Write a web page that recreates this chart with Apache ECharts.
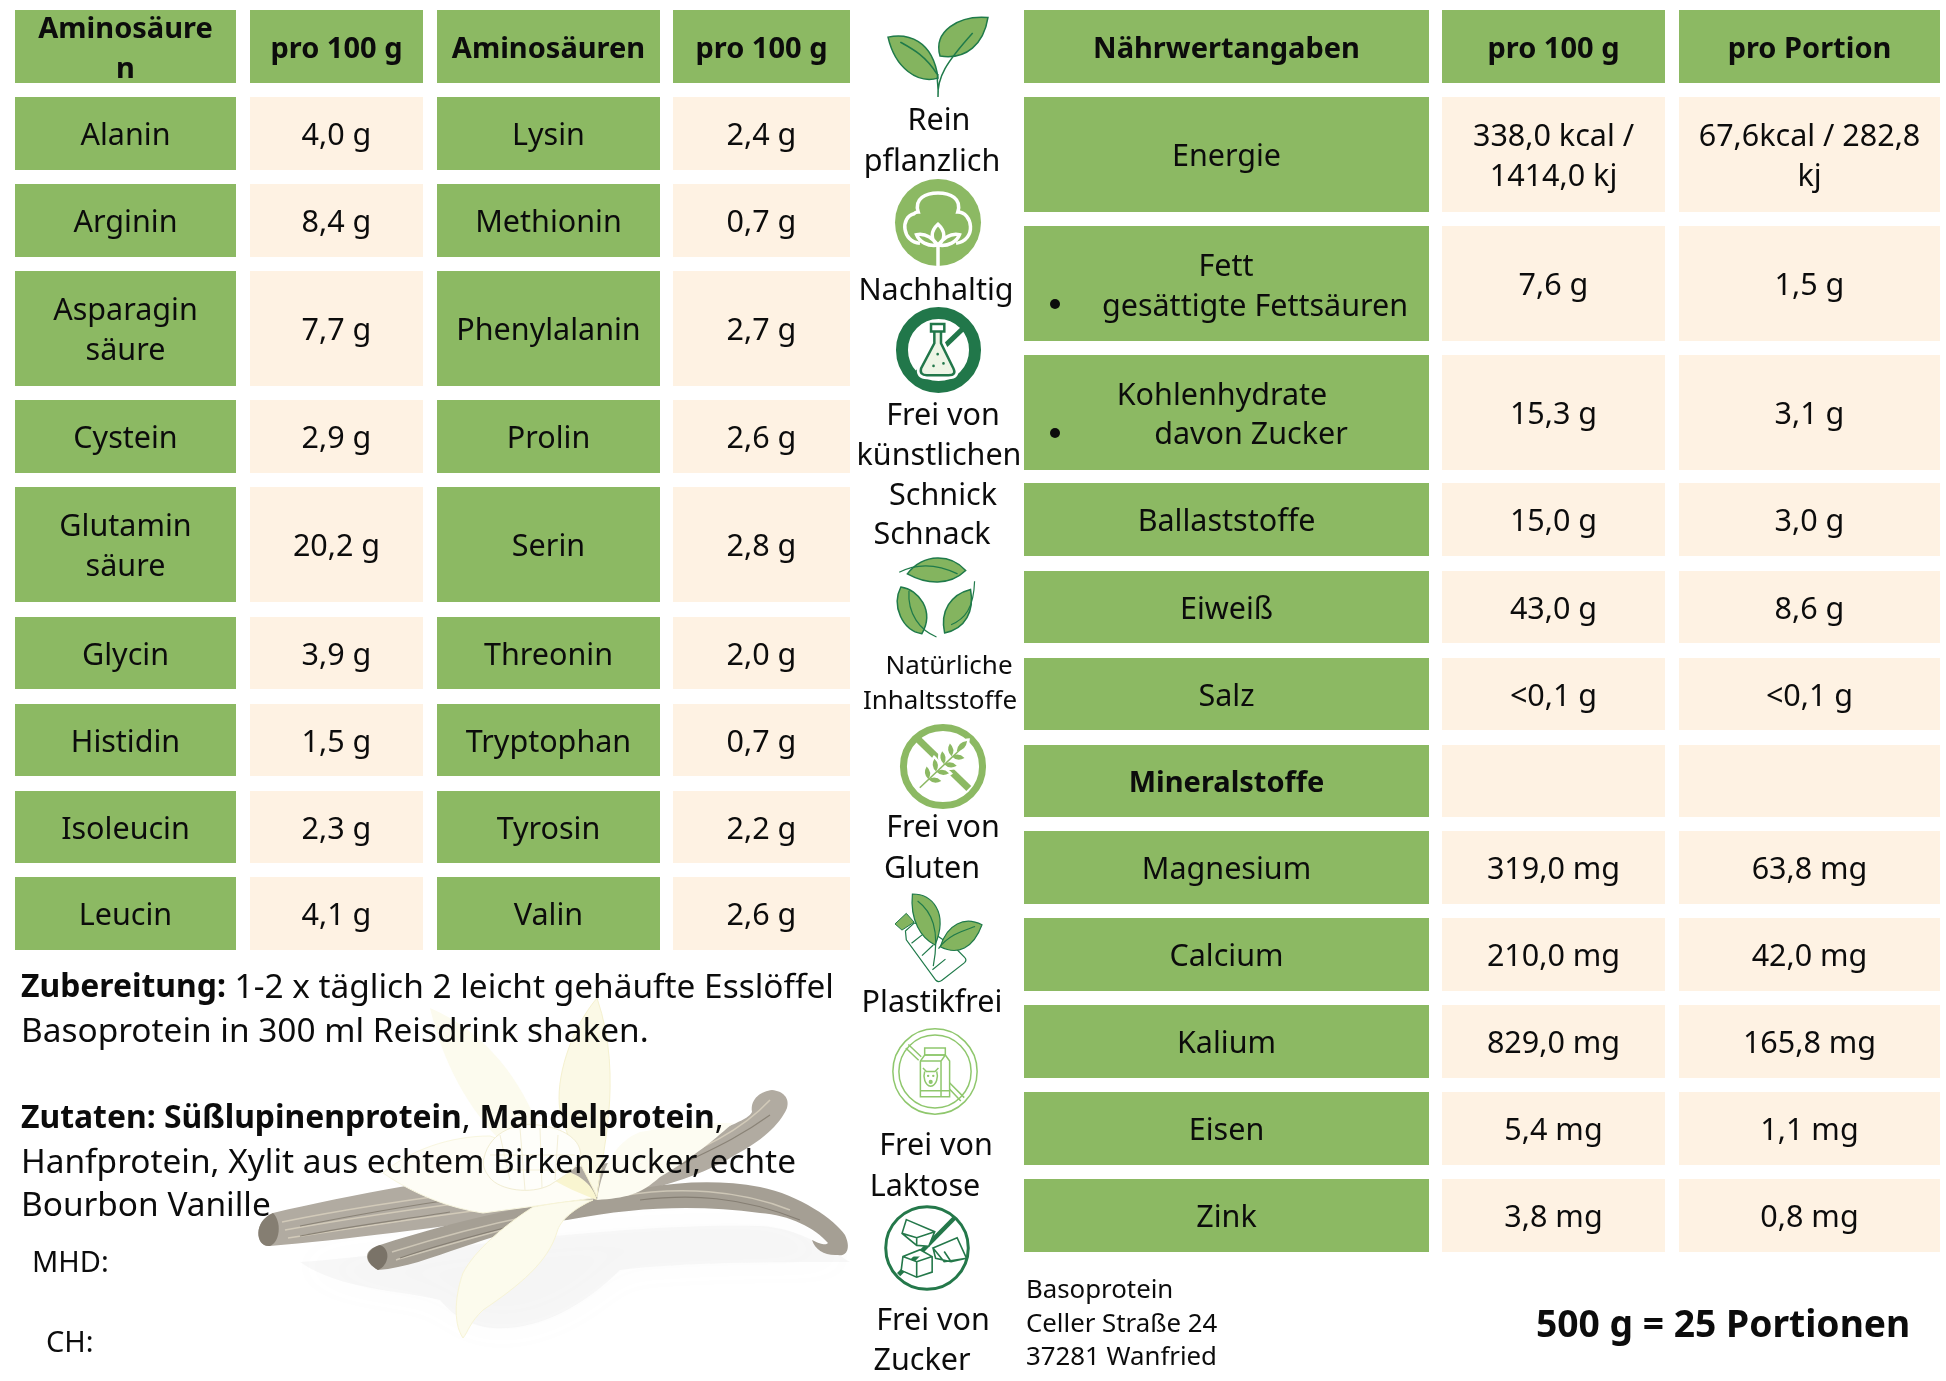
<!DOCTYPE html>
<html>
<head>
<meta charset="utf-8">
<style>html,body{margin:0;padding:0;background:#fff}#chart{width:1946px;height:1381px}</style>
<script src="https://cdn.jsdelivr.net/npm/echarts@6/dist/echarts.min.js"></script>
</head>
<body>
<div id="chart"></div>
<script>
// table contents
const aminoHeaders = ['Aminosäure\nn', 'pro 100 g', 'Aminosäuren', 'pro 100 g'];
const aminoNamesLeft = ['Alanin', 'Arginin', 'Asparagin\nsäure', 'Cystein', 'Glutamin\nsäure', 'Glycin', 'Histidin', 'Isoleucin', 'Leucin'];
const aminoValuesLeft = ['4,0 g', '8,4 g', '7,7 g', '2,9 g', '20,2 g', '3,9 g', '1,5 g', '2,3 g', '4,1 g'];
const aminoNamesRight = ['Lysin', 'Methionin', 'Phenylalanin', 'Prolin', 'Serin', 'Threonin', 'Tryptophan', 'Tyrosin', 'Valin'];
const aminoValuesRight = ['2,4 g', '0,7 g', '2,7 g', '2,6 g', '2,8 g', '2,0 g', '0,7 g', '2,2 g', '2,6 g'];

const nutrientHeaders = ['Nährwertangaben', 'pro 100 g', 'pro Portion'];
const nutrientNames = ['Energie', '', '', 'Ballaststoffe', 'Eiweiß', 'Salz', 'Mineralstoffe', 'Magnesium', 'Calcium', 'Kalium', 'Eisen', 'Zink'];
const nutrientPer100 = ['338,0 kcal /\n1414,0 kj', '7,6 g', '15,3 g', '15,0 g', '43,0 g', '<0,1 g', '', '319,0 mg', '210,0 mg', '829,0 mg', '5,4 mg', '3,8 mg'];
const nutrientPerPortion = ['67,6kcal / 282,8\nkj', '1,5 g', '3,1 g', '3,0 g', '8,6 g', '<0,1 g', '', '63,8 mg', '42,0 mg', '165,8 mg', '1,1 mg', '0,8 mg'];

// layout of the tables, in picture pixels
const aminoCols = [[15, 236], [250, 423], [437, 660], [673, 850]];
const aminoRows = [[97, 170], [184, 257], [271, 386], [400, 473], [487, 602], [617, 689], [704, 776], [791, 863], [877, 950]];
const nutrientCols = [[1024, 1429], [1442, 1665], [1679, 1940]];
const nutrientRows = [[97, 212], [226, 341], [355, 470], [483, 556], [571, 643], [658, 730], [745, 817], [831, 904], [918, 991], [1005, 1078], [1092, 1165], [1179, 1252]];
const headerRow = [10, 83];

const GREEN = '#8cb963';
const CREAM = '#fef2e3';
const INK = '#0c0c0c';
const FONT = '"Noto Sans", sans-serif';
const DARK = '#1f7a4a';
const TEXT_DROP = 3; // text sits a little below the middle of its cell

const cells = [];
function addCell(col, row, fill, text, bold) {
  cells.push({ x0: col[0], x1: col[1], y0: row[0], y1: row[1], fill, text, bold });
}
aminoHeaders.forEach((t, i) => addCell(aminoCols[i], headerRow, GREEN, t, true));
aminoRows.forEach((r, i) => {
  addCell(aminoCols[0], r, GREEN, aminoNamesLeft[i]);
  addCell(aminoCols[1], r, CREAM, aminoValuesLeft[i]);
  addCell(aminoCols[2], r, GREEN, aminoNamesRight[i]);
  addCell(aminoCols[3], r, CREAM, aminoValuesRight[i]);
});
nutrientHeaders.forEach((t, i) => addCell(nutrientCols[i], headerRow, GREEN, t, true));
nutrientRows.forEach((r, i) => {
  addCell(nutrientCols[0], r, GREEN, nutrientNames[i], nutrientNames[i] === 'Mineralstoffe');
  addCell(nutrientCols[1], r, CREAM, nutrientPer100[i]);
  addCell(nutrientCols[2], r, CREAM, nutrientPerPortion[i]);
});

// free text: [x, y, text, size, align]
const labels = [
  [1226, 264, 'Fett', 30.5], [1255, 304, 'gesättigte Fettsäuren', 30.5],
  [1222, 393, 'Kohlenhydrate', 30.5], [1251, 432, 'davon Zucker', 30.5],
  [939, 118, 'Rein', 30.5], [932, 159, 'pflanzlich', 30.5], [936, 288, 'Nachhaltig', 30.5],
  [943, 413, 'Frei von', 30.5], [939, 453, 'künstlichen', 30.5], [943, 493, 'Schnick', 30.5], [932, 532, 'Schnack', 30.5],
  [949, 664, 'Natürliche', 26], [940, 699, 'Inhaltsstoffe', 26],
  [943, 825, 'Frei von', 30.5], [932, 866, 'Gluten', 30.5], [932, 1000, 'Plastikfrei', 30.5],
  [936, 1143, 'Frei von', 30.5], [925, 1184, 'Laktose', 30.5], [933, 1318, 'Frei von', 30.5], [922, 1358, 'Zucker', 30.5],
  [21, 985, '{b|Zubereitung:} 1-2 x täglich 2 leicht gehäufte Esslöffel', 33.4, 'left'],
  [21, 1029, 'Basoprotein in 300 ml Reisdrink shaken.', 33.4, 'left'],
  [21, 1116, '{b|Zutaten: Süßlupinenprotein}, {b|Mandelprotein},', 33.4, 'left'],
  [21, 1160, 'Hanfprotein, Xylit aus echtem Birkenzucker, echte', 33.4, 'left'],
  [21, 1203, 'Bourbon Vanille', 33.4, 'left'],
  [32, 1261, 'MHD:', 29, 'left'], [46, 1341, 'CH:', 29, 'left'],
  [1026, 1288, 'Basoprotein', 25.8, 'left'], [1026, 1322, 'Celler Straße 24', 25.8, 'left'], [1026, 1355, '37281 Wanfried', 25.8, 'left'],
  [1536, 1323, '{b|500 g = 25 Portionen}', 39, 'left']
];
const bullets = [[1055, 304], [1055, 433]];

function circleD(cx, cy, r) {
  return `M${cx - r} ${cy}a${r} ${r} 0 1 0 ${2 * r} 0a${r} ${r} 0 1 0 ${-2 * r} 0Z`;
}
// one wheat grain, pointing from (x,y) along (dx,dy)
function grainD(x, y, dx, dy) {
  const nx = -dy * 0.4, ny = dx * 0.4;
  return `M${x} ${y}Q${x + dx / 2 + nx} ${y + dy / 2 + ny} ${x + dx} ${y + dy}Q${x + dx / 2 - nx} ${y + dy / 2 - ny} ${x} ${y}Z`;
}
const wheatGrains = [[33, 65], [42, 56], [51, 47], [60, 38]]
  .map(p => grainD(p[0], p[1], -2, -15) + grainD(p[0], p[1], 15, 2)).join('') + grainD(66, 32, 12, -12);

// icons are drawn in a 0..100 box
const LIGHT = '#84b45f';
const icons = [
  { box: [887, 15, 989, 97], parts: [
    { d: 'M1 27C20 22 45 30 50 77C30 84 8 65 1 27Z', fill: LIGHT, stroke: DARK, lw: 1.5 },
    { d: 'M99 3C70 0 45 20 52 50C78 55 95 35 99 3Z', fill: LIGHT, stroke: DARK, lw: 1.5 },
    { d: 'M50 100C51 85 48 80 50 72M50 100C49 76 58 58 84 22M13 33C26 42 38 50 49 72', stroke: DARK, lw: 1.5 }
  ] },
  { box: [895, 179, 981, 266], parts: [
    { d: circleD(50, 50, 50), fill: GREEN },
    { d: 'M29 74C8 72 6 44 22 40C24 38 26 38 27 38C22 22 36 16 50 16C64 16 78 22 73 38C90 38 96 70 71 74', stroke: '#fff', lw: 3.5 },
    { d: 'M50 100V76M50 52C41 60 41 70 50 76C59 70 59 60 50 52ZM50 76C42 66 34 62 25 64C28 72 38 78 50 76ZM50 76C58 66 66 62 75 64C72 72 62 78 50 76Z', stroke: '#fff', lw: 3.5 }
  ] },
  { box: [897, 308, 980, 392], parts: [
    { d: circleD(50, 50, 44), fill: '#fff', stroke: '#21774a', lw: 12 },
    { d: 'M20 81L80 24', stroke: '#21774a', lw: 5 },
    { d: 'M45 26V42L29 72Q27 80 36 80H62Q72 80 68 72L53 42V26Z', fill: '#fff', stroke: '#fff', lw: 8 },
    { d: 'M45 28V42L29 72Q27 80 36 80H62Q72 80 68 72L53 42V28', fill: '#eef5e6', stroke: '#21774a', lw: 2.5 },
    { d: 'M41 19H57V28H41Z', fill: '#fff', stroke: '#21774a', lw: 2.5 },
    { d: circleD(49, 55, 1.6) + circleD(56, 66, 1.6) + circleD(44, 69, 1.6), fill: '#21774a' }
  ] },
  { box: [896, 555, 977, 637], parts: [
    { d: 'M14 23C35 -3 68 -1 86 19C66 38 38 36 14 23Z', fill: LIGHT, stroke: DARK, lw: 1.5 },
    { d: 'M4 21C30 8 55 13 76 23', stroke: DARK, lw: 1.2 },
    { d: 'M6 39C28 42 48 68 32 96C8 92 -6 62 6 39Z', fill: LIGHT, stroke: DARK, lw: 1.5 },
    { d: 'M16 44C14 72 30 92 50 100', stroke: DARK, lw: 1.2 },
    { d: 'M60 95C54 68 68 48 92 42C97 68 86 90 60 95Z', fill: LIGHT, stroke: DARK, lw: 1.5 },
    { d: 'M68 85C85 78 96 65 97 32', stroke: DARK, lw: 1.2 }
  ] },
  { box: [900, 724, 986, 809], parts: [
    { d: circleD(50, 50, 46), fill: '#fff', stroke: GREEN, lw: 7 },
    { d: 'M21 18L80 76', stroke: GREEN, lw: 7 },
    { d: 'M20 76L76 24', stroke: '#fff', lw: 10 },
    { d: wheatGrains, fill: '#fff', stroke: '#fff', lw: 5 },
    { d: 'M23 75L70 30', stroke: GREEN, lw: 1.6 },
    { d: wheatGrains, fill: GREEN }
  ] },
  { box: [895, 894, 982, 982], parts: [
    { d: 'M0 34L13 22L22 32L8 41Z', fill: LIGHT, stroke: DARK, lw: 1 },
    { d: 'M12 42L13 52L47 98Q50 101 54 98L80 78Q83 75 80 72L70 62L30 35L22 33Z', fill: '#fff', stroke: DARK, lw: 1.2 },
    { d: 'M19 56L33 45M31 70L44 58M43 86L58 74', stroke: DARK, lw: 1.2 },
    { d: 'M20 0C42 0 62 20 46 58C30 50 17 30 20 0Z', fill: LIGHT, stroke: DARK, lw: 1.2 },
    { d: 'M100 35C80 25 60 34 52 60C72 70 90 62 100 35Z', fill: LIGHT, stroke: DARK, lw: 1.2 },
    { d: 'M26 8C42 20 52 40 44 82M50 62C62 46 78 42 92 37', stroke: DARK, lw: 1.2 }
  ] },
  { box: [892, 1028, 978, 1115], parts: [
    { d: circleD(50, 50, 49), fill: '#fff', stroke: '#8fc76d', lw: 1.5 },
    { d: circleD(50, 50, 42), stroke: '#8fc76d', lw: 1.5 },
    { d: 'M19 19L34 33M16 23L31 37M66 62L84 80M63 66L80 84', stroke: '#8fc76d', lw: 1.5 },
    { d: 'M33 38L38 31H62L67 38V79H33Z', fill: '#fff', stroke: '#8fc76d', lw: 1.5 },
    { d: 'M38 23H62V31H38ZM33 38H57V79M57 38L62 31M33 72H67', stroke: '#8fc76d', lw: 1.5 },
    { d: 'M36 46L40 50H50L54 46M38 50C36 56 38 66 45 67C52 66 54 56 52 50', stroke: '#8fc76d', lw: 1.5 },
    { d: circleD(42, 55, 1.4) + circleD(48, 55, 1.4) + circleD(45, 62, 2.4), fill: '#8fc76d' }
  ] },
  { box: [884, 1205, 970, 1291], parts: [
    { d: circleD(50, 50, 48), fill: '#fff', stroke: '#24784a', lw: 3 },
    { d: 'M17 81L83 14', stroke: '#24784a', lw: 4.5 },
    { d: 'M26 17L59 31L52 48L38 47L21 33ZM21 33L38 38L59 31M38 38V47', fill: '#fff', stroke: '#24784a', lw: 1.6 },
    { d: 'M57 50L85 38L96 62L70 66ZM57 50L60 62L78 66L96 62M70 54L78 66', fill: '#fff', stroke: '#24784a', lw: 1.6 },
    { d: 'M22 60L42 52L56 60V78L38 84L20 76ZM22 60L38 66L56 60M38 66V84', fill: '#fff', stroke: '#24784a', lw: 1.6 }
  ] }
];

// faded vanilla picture behind the text, in picture pixels
const vanilla = [
  { d: 'M300 1262C430 1252 620 1222 760 1226C800 1228 830 1250 850 1262C760 1262 690 1262 620 1270C560 1330 480 1350 440 1300C400 1290 340 1290 300 1262Z', fill: 'rgba(190,190,190,0.10)', blur: 35 },
  { d: 'M273 1213C310 1204 360 1194 400 1187C500 1170 640 1170 697 1140C730 1125 748 1120 752 1112C750 1098 762 1091 772 1090C783 1091 790 1098 787 1108C780 1125 760 1142 735 1155C700 1178 640 1195 540 1212C440 1228 340 1240 270 1246C256 1248 252 1222 273 1213Z', fill: '#b1aba1' },
  { d: 'M282 1222C340 1210 420 1198 500 1188M285 1230C340 1220 420 1208 500 1198M288 1238C340 1230 420 1218 480 1210M660 1165C700 1150 740 1132 770 1100', stroke: '#d2cab9', lw: 1.6 },
  { d: 'M300 1226C350 1216 420 1204 470 1197M300 1236C350 1226 400 1220 450 1212M680 1165C710 1150 735 1140 770 1115', stroke: '#8a8377', lw: 1.2 },
  { d: 'M273 1213C252 1222 256 1248 270 1246C280 1242 282 1222 273 1213Z', fill: '#857e72' },
  { d: 'M380 1245C420 1232 470 1218 527 1207L593 1200C640 1186 700 1176 760 1187C800 1195 835 1220 845 1235C852 1250 845 1257 838 1255C825 1256 815 1250 812 1240C822 1245 826 1245 828 1243C815 1228 790 1215 760 1213C700 1205 640 1206 567 1220C530 1224 490 1238 463 1247C430 1258 405 1268 378 1270C364 1262 362 1250 380 1245Z', fill: '#a59f94' },
  { d: 'M392 1252C430 1240 480 1226 530 1216M396 1260C430 1250 470 1238 510 1228M620 1196C680 1186 740 1190 790 1210', stroke: '#cdc6b6', lw: 1.5 },
  { d: 'M400 1258C440 1244 480 1234 520 1224M640 1200C690 1194 740 1196 800 1220', stroke: '#857e73', lw: 1.2 },
  { d: 'M380 1245C364 1250 364 1262 378 1270C388 1266 392 1250 380 1245Z', fill: '#7a7368' },
  { d: 'M537 1123C515 1070 480 1030 430 1008C440 1050 460 1100 500 1140Z', fill: '#fcfbee' },
  { d: 'M597 1197C600 1160 625 1080 597 998C570 1030 555 1080 560 1110C570 1150 590 1180 597 1197Z', fill: '#fbf9e6', stroke: '#f5f1cf', lw: 1 },
  { d: 'M597 1200C625 1198 640 1195 660 1177C690 1160 720 1135 733 1123C700 1122 660 1128 640 1132C620 1140 603 1160 597 1200Z', fill: '#fdfcf2' },
  { d: 'M593 1198C560 1203 527 1207 483 1213C450 1208 415 1195 383 1173C410 1150 450 1136 490 1136C530 1150 575 1180 593 1198Z', fill: '#fefdf6', stroke: '#f8f6df', lw: 1 },
  { d: 'M593 1200C575 1208 560 1220 557 1232C548 1262 520 1285 483 1310C470 1322 468 1332 463 1338C452 1322 456 1292 463 1273C475 1250 505 1225 533 1207C555 1203 575 1200 593 1200Z', fill: '#fcfbed', stroke: '#f7f4d6', lw: 1 },
  { d: 'M597 1200C575 1192 550 1180 540 1170C560 1165 590 1175 597 1200Z', fill: '#f9f5d0' },
  { d: 'M484 1158C490 1130 520 1122 538 1125C565 1128 578 1140 580 1150C585 1165 565 1175 550 1185C530 1195 500 1190 490 1178C484 1170 482 1165 484 1158Z', fill: '#fefefa', stroke: '#f1edd2', lw: 1 },
  { d: 'M500 1135L510 1180M520 1128L525 1190M540 1128L542 1188M558 1135L555 1180M490 1155H575M495 1170H570', stroke: '#f3efd8', lw: 1 }
];

const MARK100 = 'M0 0L0 0M100 100L100 100';
const MARKPIC = 'M0 0L0 0M1946 1381L1946 1381';

function pathPart(part, marker, rect) {
  return {
    type: 'path',
    shape: { pathData: part.d + marker, layout: 'cover', x: rect[0], y: rect[1], width: rect[2], height: rect[3] },
    style: {
      fill: part.fill || 'none',
      stroke: part.stroke || 'none',
      lineWidth: part.lw || 0,
      shadowBlur: part.blur || 0,
      shadowColor: part.blur ? 'rgba(170,170,170,0.35)' : 'transparent'
    }
  };
}

const option = {
  animation: false,
  backgroundColor: '#fff',
  grid: { left: 0, right: 0, top: 0, bottom: 0 },
  xAxis: { type: 'value', min: 0, max: 1946, show: false },
  yAxis: { type: 'value', min: 0, max: 1381, inverse: true, show: false },
  series: [
    {
      name: 'vanilla', type: 'custom', silent: true, z: 1,
      data: [[0, 0, 1946, 1381]],
      renderItem(params, api) {
        const a = api.coord([api.value(0), api.value(1)]);
        const b = api.coord([api.value(2), api.value(3)]);
        const rect = [a[0], a[1], b[0] - a[0], b[1] - a[1]];
        return { type: 'group', children: vanilla.map(p => pathPart(p, MARKPIC, rect)) };
      }
    },
    {
      name: 'cells', type: 'custom', silent: true, z: 2,
      data: cells.map(c => [c.x0, c.y0, c.x1, c.y1]),
      renderItem(params, api) {
        const c = cells[params.dataIndex];
        const a = api.coord([api.value(0), api.value(1)]);
        const b = api.coord([api.value(2), api.value(3)]);
        return {
          type: 'group',
          children: [
            { type: 'rect', shape: { x: a[0], y: a[1], width: b[0] - a[0], height: b[1] - a[1] }, style: { fill: c.fill } },
            { type: 'text', style: {
              x: (a[0] + b[0]) / 2, y: (a[1] + b[1]) / 2 + TEXT_DROP, text: c.text, fill: INK, align: 'center', verticalAlign: 'middle',
              fontFamily: FONT, fontSize: c.bold ? 29 : 30.5, lineHeight: 40, fontWeight: c.bold ? 700 : 400
            } }
          ]
        };
      }
    },
    {
      name: 'bullets', type: 'custom', silent: true, z: 3,
      data: bullets,
      renderItem(params, api) {
        const p = api.coord([api.value(0), api.value(1)]);
        return { type: 'circle', shape: { cx: p[0], cy: p[1], r: 5 }, style: { fill: INK } };
      }
    },
    {
      name: 'icons', type: 'custom', silent: true, z: 3,
      data: icons.map(i => i.box),
      renderItem(params, api) {
        const a = api.coord([api.value(0), api.value(1)]);
        const b = api.coord([api.value(2), api.value(3)]);
        const rect = [a[0], a[1], b[0] - a[0], b[1] - a[1]];
        return { type: 'group', children: icons[params.dataIndex].parts.map(p => pathPart(p, MARK100, rect)) };
      }
    },
    {
      name: 'labels', type: 'custom', silent: true, z: 4,
      data: labels.map(l => [l[0], l[1]]),
      renderItem(params, api) {
        const l = labels[params.dataIndex];
        const p = api.coord([api.value(0), api.value(1)]);
        return { type: 'text', style: {
          x: p[0], y: p[1] + TEXT_DROP, text: l[2], fill: INK, align: l[4] || 'center', verticalAlign: 'middle',
          fontFamily: FONT, fontSize: l[3],
          rich: { b: { fontFamily: FONT, fontSize: l[3] * 0.955, fontWeight: 700, fill: INK, color: INK } }
        } };
      }
    }
  ]
};

const chart = echarts.init(document.getElementById('chart'));
chart.setOption(option);
</script>
</body>
</html>
